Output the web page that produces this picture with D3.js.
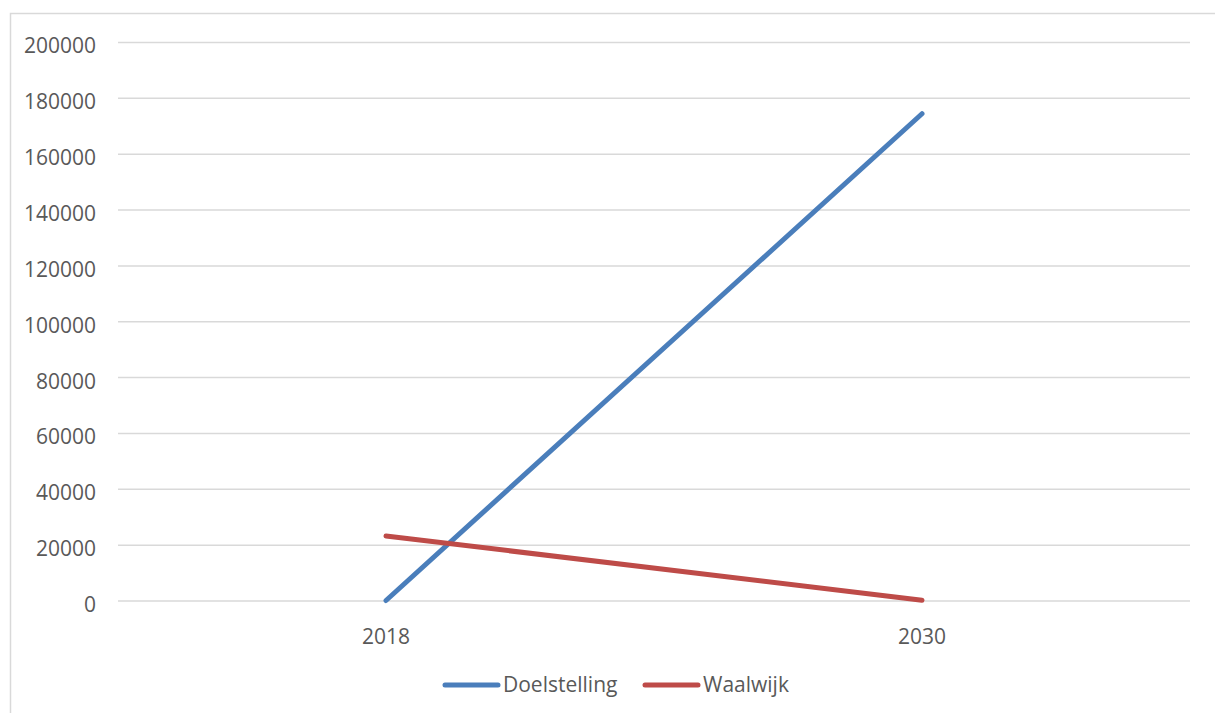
<!DOCTYPE html>
<meta charset="utf-8">
<script src="https://d3js.org/d3.v7.min.js"></script>
<style>
  body { margin: 0; background: #fff; }
  text { font-family: "Open Sans", sans-serif; fill: #595959; }
</style>
<div id="my_dataviz"></div>
<script>
  // data
  var years = ["2018", "2030"];
  var doelstelling = [0, 174300];
  var waalwijk = [23100, 100];
  var seriesNames = ["Doelstelling", "Waalwijk"];
  var seriesColors = ["#4a7ebb", "#be4b48"];
  var yTicks = [0, 20000, 40000, 60000, 80000, 100000, 120000, 140000, 160000, 180000, 200000];

  var W = 1215, H = 713;
  var margin = { top: 42, right: 25, bottom: 112, left: 118 },
    width = 1190 - margin.left,
    height = 600.5 - margin.top;

  var root = d3.select("#my_dataviz")
    .append("svg")
    .attr("width", W)
    .attr("height", H);

  // chart border (extends past the picture on the right and bottom)
  root.append("rect")
    .attr("x", 10.5).attr("y", 13.5)
    .attr("width", 1220).attr("height", 720)
    .attr("fill", "none")
    .attr("stroke", "#d9d9d9")
    .attr("stroke-width", 1.5);

  var svg = root.append("g")
    .attr("transform", "translate(" + margin.left + "," + margin.top + ")");

  var x = d3.scaleBand().domain(years).range([0, width]);
  var y = d3.scaleLinear().domain([0, 200000]).range([height, 0]);

  // gridlines
  svg.append("g")
    .call(d3.axisLeft(y).tickValues(yTicks).tickSize(-width).tickFormat(""))
    .call(function(g) {
      g.select(".domain").remove();
      g.selectAll("line").attr("stroke", "#d9d9d9").attr("stroke-width", 1.5);
    });

  // y labels
  svg.append("g")
    .call(d3.axisLeft(y).tickValues(yTicks).tickSize(0).tickPadding(22).tickFormat(d3.format("d")))
    .call(function(g) {
      g.select(".domain").remove();
      g.selectAll("text").style("font-size", "21px").attr("fill", "#595959").attr("dy", "0.52em");
    });

  // x labels
  svg.append("g")
    .attr("transform", "translate(0," + height + ")")
    .call(d3.axisBottom(x).tickSize(0).tickPadding(29))
    .call(function(g) {
      g.select(".domain").remove();
      g.selectAll("text").style("font-size", "21px").attr("fill", "#595959");
    });

  var series = [doelstelling, waalwijk];
  var line = d3.line()
    .x(function(d, i) { return x(years[i]) + x.bandwidth() / 2; })
    .y(function(d) { return y(d); });

  series.forEach(function(s, k) {
    svg.append("path")
      .datum(s)
      .attr("d", line)
      .attr("fill", "none")
      .attr("stroke", seriesColors[k])
      .attr("stroke-width", 5)
      .attr("stroke-linecap", "round");
  });

  // legend
  var legendX = [443, 643];
  var legend = root.append("g");
  seriesNames.forEach(function(name, k) {
    legend.append("line")
      .attr("x1", legendX[k] + 2).attr("x2", legendX[k] + 55)
      .attr("y1", 685).attr("y2", 685)
      .attr("stroke", seriesColors[k])
      .attr("stroke-width", 5)
      .attr("stroke-linecap", "round");
    legend.append("text")
      .attr("x", legendX[k] + 60)
      .attr("y", 685)
      .attr("dy", "0.35em")
      .style("font-size", "21px")
      .text(name);
  });
</script>
